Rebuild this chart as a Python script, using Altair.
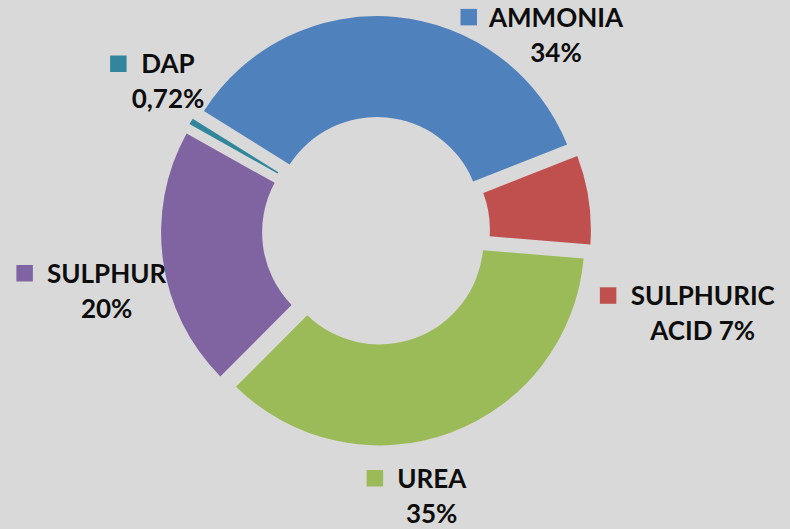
import math
import altair as alt
import pandas as pd

# ---- data ----
categories = ["AMMONIA", "SULPHURIC ACID", "UREA", "SULPHUR", "DAP"]
shares = [34, 7, 35, 20, 0.72]
label_top = ["AMMONIA", "SULPHURIC", "UREA", "SULPHUR", "DAP"]
label_bottom = ["34%", "ACID 7%", "35%", "20%", "0,72%"]
colors = ["#4f81bd", "#c0504d", "#9bbb59", "#8064a2", "#31869b"]

# ---- styling: label placement relative to each slice's middle ----
label_shift_deg = [37.3, 22.6, 8.4, -4.7, 5.0]   # angular nudge from slice middle
label_dist = [266, 337, 271, 276, 256]           # distance of label block from donut centre

W, H = 790, 529
CX, CY = 376, 231
R_IN, R_OUT = 104, 205
EXPLODE = 10
START = -58 * math.pi / 180
FONT = "Lato"
FS = 26

# approximate advance widths (em) of Lato Bold capitals, used to put the key square
EM = {"A": .68, "M": .88, "O": .78, "N": .75, "I": .29, "S": .56, "U": .72,
      "L": .52, "P": .62, "H": .76, "R": .64, "C": .68, "E": .56, "D": .75}
name_w = [sum(EM.get(ch, .65) for ch in t) * FS for t in label_top]

df = pd.DataFrame({
    "cat": categories,
    "share": shares,
    "top": label_top,
    "bottom": label_bottom,
    "order": list(range(len(categories))),
    "shift": label_shift_deg,
    "dist": label_dist,
    "nw": name_w,
})

base = (
    alt.Chart(df)
    .transform_window(cum="sum(share)", sort=[alt.SortField("order")])
    .transform_joinaggregate(total="sum(share)")
    .transform_calculate(a0=f"{START} + 2*PI*(datum.cum - datum.share)/datum.total")
    .transform_calculate(a1=f"{START} + 2*PI*datum.cum/datum.total")
    .transform_calculate(mid="(datum.a0 + datum.a1)/2")
    .transform_calculate(ax=f"{CX} + {EXPLODE}*sin(datum.mid)")
    .transform_calculate(ay=f"{CY} - {EXPLODE}*cos(datum.mid)")
    .transform_calculate(la="datum.mid + datum.shift*PI/180")
    .transform_calculate(lx=f"{CX} + datum.dist*sin(datum.la)")
    .transform_calculate(ly=f"{CY} - datum.dist*cos(datum.la)")
    .transform_calculate(ny="datum.ly - 8.5")
    .transform_calculate(by="datum.ly + 26.5")
    .transform_calculate(sx="datum.lx - datum.nw/2 - 23")
    .transform_calculate(sy="datum.ny - 9.5")
)

color_enc = alt.Color("cat:N", scale=alt.Scale(domain=categories, range=colors), legend=None)

arcs = base.mark_arc(innerRadius=R_IN, outerRadius=R_OUT, padAngle=0.014).encode(
    theta=alt.Theta("a0:Q", scale=None, stack=None),
    theta2="a1:Q",
    x=alt.X("ax:Q", scale=None, axis=None),
    y=alt.Y("ay:Q", scale=None, axis=None),
    color=color_enc,
)

names = base.mark_text(font=FONT, fontWeight="bold", fontSize=FS, align="center",
                       baseline="alphabetic", color="#0d0d0d").encode(
    x=alt.X("lx:Q", scale=None, axis=None),
    y=alt.Y("ny:Q", scale=None, axis=None),
    text="top:N",
)

pcts = base.mark_text(font=FONT, fontWeight="bold", fontSize=FS, align="center",
                      baseline="alphabetic", color="#0d0d0d").encode(
    x=alt.X("lx:Q", scale=None, axis=None),
    y=alt.Y("by:Q", scale=None, axis=None),
    text="bottom:N",
)

keys = base.mark_square(size=272, opacity=1).encode(
    x=alt.X("sx:Q", scale=None, axis=None),
    y=alt.Y("sy:Q", scale=None, axis=None),
    color=color_enc,
)

chart = (
    alt.layer(arcs, keys, names, pcts)
    .properties(width=W, height=H, padding=0, autosize="none", background="#d9d9d9")
    .configure_view(stroke=None)
)

chart.save("out.html", embed_options={"renderer": "svg", "actions": False})
